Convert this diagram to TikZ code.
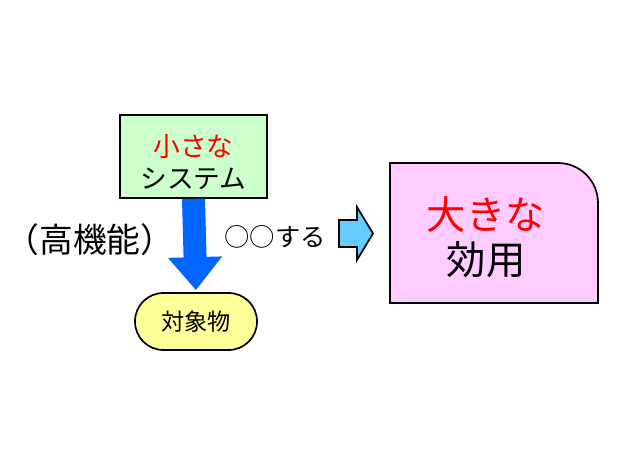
\documentclass[tikz,border=0pt]{standalone}
\usepackage{fontspec}
\setmainfont{Noto Sans CJK JP}
\usetikzlibrary{arrows.meta}
\definecolor{boxgreen}{HTML}{CCFFCC}
\definecolor{boxpink}{HTML}{FFCCFF}
\definecolor{boxyellow}{HTML}{FFFF99}
\definecolor{arrowblue}{HTML}{0066FF}
\definecolor{lightblue}{HTML}{66CCFF}
\begin{document}
\begin{tikzpicture}[x=0.025cm,y=-0.025cm,
    box/.style={draw,line width=1.2pt,align=center,inner sep=0pt}]
     \useasboundingbox (0,0) rectangle (620,465);

     \node[box,fill=boxgreen,minimum width=3.675cm,minimum height=2.075cm] (sys) at (193.5,156.5) {};
     \node[align=center,font=\fontsize{19}{23}\selectfont] (systxt) at (193.5,162) {\textcolor{red}{小さな}\\システム};
     \node[box,fill=boxyellow,minimum width=3.05cm,minimum height=1.425cm,rounded corners=0.71cm,
       font=\fontsize{16.5}{16.5}\selectfont] (obj) at (196,321.5) {対象物};
     \draw[arrowblue,line width=0.575cm,-{Triangle[width=1.3cm,length=0.825cm]},shorten >=0.05cm]
       (sys.south) -- (obj.north);

     \node[font=\fontsize{24}{24}\selectfont] (func) at (90,240) {（高機能）};
     \node[font=\fontsize{18}{18}\selectfont] (act) at (275,237) {○○する};

     \draw[line width=1.2pt,fill=lightblue] (339,220) -- (357,220) -- (357,207) -- (373,233.5)
       -- (357,260) -- (357,247) -- (339,247) -- cycle;

     \draw[line width=1.2pt,fill=boxpink] (390,303) -- (390,163) [rounded corners=1cm] -- (598,163)
       [sharp corners] -- (598,303) -- cycle;
     \node[align=center,font=\fontsize{28}{32}\selectfont] (util) at (486,237) {\textcolor{red}{大きな}\\効用};
    \end{tikzpicture}
\end{document}
